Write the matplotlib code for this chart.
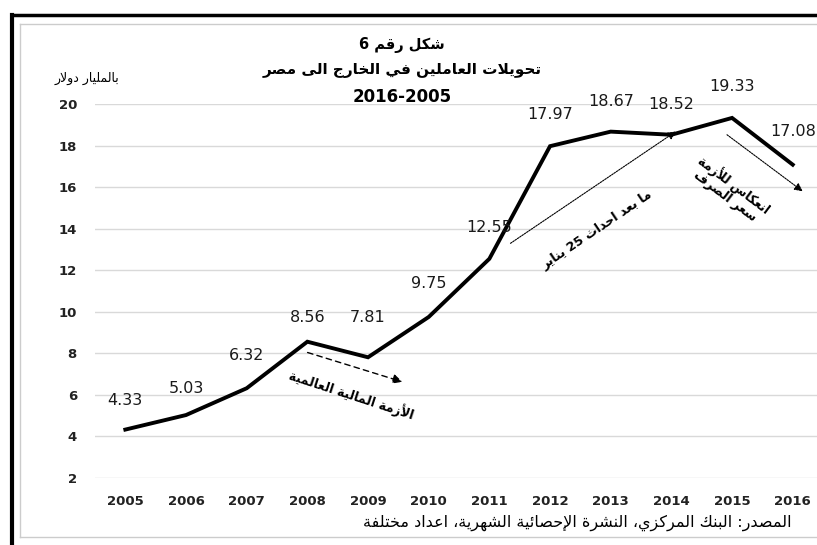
import re
import matplotlib
matplotlib.use("Agg")
import matplotlib.pyplot as plt
from matplotlib.lines import Line2D

# data
years = [2005, 2006, 2007, 2008, 2009, 2010, 2011, 2012, 2013, 2014, 2015, 2016]
remittances = [4.33, 5.03, 6.32, 8.56, 7.81, 9.75, 12.55, 17.97, 18.67, 18.52, 19.33, 17.08]
value_labels = ["4.33", "5.03", "6.32", "8.56", "7.81", "9.75", "12.55", "17.97", "18.67", "18.52", "19.33", "17.08"]
y_ticks = [2, 4, 6, 8, 10, 12, 14, 16, 18, 20]

title_1 = "شكل رقم 6"
title_2 = "تحويلات العاملين في الخارج الى مصر"
title_3 = "2016-2005"
unit_label = "بالمليار دولار"
source_text = "المصدر: البنك المركزي، النشرة الإحصائية الشهرية، اعداد مختلفة"
note_crisis = "الأزمة المالية العالمية"
note_jan25 = "ما بعد احداث 25 يناير"
note_fx = "انعكاس للأزمة\nسعر الصرف"

# label offsets above each point (pixels)
label_dy = [29, 27, 33, 24, 40, 33, 31, 32, 30, 30, 31, 33]

# --- small arabic shaper (matplotlib 3.10 has no complex text layout) ---
FORMS = {
    "ء": (0xFE80, 1), "آ": (0xFE81, 2), "أ": (0xFE83, 2), "ؤ": (0xFE85, 2),
    "إ": (0xFE87, 2), "ئ": (0xFE89, 4), "ا": (0xFE8D, 2), "ب": (0xFE8F, 4),
    "ة": (0xFE93, 2), "ت": (0xFE95, 4), "ث": (0xFE99, 4), "ج": (0xFE9D, 4),
    "ح": (0xFEA1, 4), "خ": (0xFEA5, 4), "د": (0xFEA9, 2), "ذ": (0xFEAB, 2),
    "ر": (0xFEAD, 2), "ز": (0xFEAF, 2), "س": (0xFEB1, 4), "ش": (0xFEB5, 4),
    "ص": (0xFEB9, 4), "ض": (0xFEBD, 4), "ط": (0xFEC1, 4), "ظ": (0xFEC5, 4),
    "ع": (0xFEC9, 4), "غ": (0xFECD, 4), "ف": (0xFED1, 4), "ق": (0xFED5, 4),
    "ك": (0xFED9, 4), "ل": (0xFEDD, 4), "م": (0xFEE1, 4), "ن": (0xFEE5, 4),
    "ه": (0xFEE9, 4), "و": (0xFEED, 2), "ى": (0xFEEF, 2), "ي": (0xFEF1, 4),
}
LAM_ALEF = {"آ": 0xFEF5, "أ": 0xFEF7, "إ": 0xFEF9, "ا": 0xFEFB}


def shape(s):
    out = []
    i = 0
    n = len(s)
    while i < n:
        c = s[i]
        if c not in FORMS:
            out.append(c)
            i += 1
            continue
        prev = i > 0 and s[i - 1] in FORMS and FORMS[s[i - 1]][1] == 4
        if c == "ل" and i + 1 < n and s[i + 1] in LAM_ALEF:
            out.append(chr(LAM_ALEF[s[i + 1]] + (1 if prev else 0)))
            i += 2
            continue
        base, nf = FORMS[c]
        nxt = nf == 4 and i + 1 < n and s[i + 1] in FORMS and FORMS[s[i + 1]][1] > 1
        if prev and nxt:
            k = 3
        elif prev:
            k = 1
        elif nxt:
            k = 2
        else:
            k = 0
        if nf == 1:
            k = 0
        out.append(chr(base + k))
        i += 1
    return "".join(out)


def ar(text):
    lines = []
    for line in text.split("\n"):
        shaped = shape(line)
        tokens = re.findall(r"[0-9]+(?:[.\-][0-9]+)*|[^0-9]+", shaped)
        lines.append("".join(t if t[0].isdigit() else t[::-1] for t in reversed(tokens)))
    return "\n".join(lines)


plt.rcParams["font.family"] = ["DejaVu Sans"]

W, H = 817, 545
fig = plt.figure(figsize=(W / 100, H / 100), dpi=100)

x0, x1 = 95, 817
y_top, y_bot = 104, 478
ax = fig.add_axes([x0 / W, 1 - y_bot / H, (x1 - x0) / W, (y_bot - y_top) / H])
ax.set_xlim(2004.5, 2016.4)
ax.set_ylim(2, 20)

ax.plot(years, remittances, color="black", lw=2.8, solid_joinstyle="miter", clip_on=False, zorder=3)

for x, y, lab, dy in zip(years, remittances, value_labels, label_dy):
    ax.annotate(lab, (x, y), xytext=(0, dy * 0.72), textcoords="offset points",
                ha="center", va="center", fontsize=11.5, color="#1a1a1a")

ax.set_yticks(y_ticks)
ax.set_xticks(years)
ax.set_xticklabels([str(y) for y in years])
ax.grid(axis="y", color="#d9d9d9", lw=1)
ax.set_axisbelow(True)
for sp in ax.spines.values():
    sp.set_visible(False)
ax.tick_params(axis="both", length=0, labelsize=9.5)
ax.tick_params(axis="y", pad=13)
ax.tick_params(axis="x", pad=12)
for t in ax.get_xticklabels() + ax.get_yticklabels():
    t.set_fontweight("bold")
    t.set_color("#222222")

# annotations
ax.annotate("", xy=(2009.61, 6.59), xytext=(2007.96, 8.08),
            arrowprops=dict(arrowstyle="-|>", color="black", lw=1, ls=(0, (4, 3)), mutation_scale=14))
ax.text(2008.72, 6.0, ar(note_crisis), rotation=-18, ha="center", va="center",
        fontsize=9, fontweight="bold", rotation_mode="anchor")

ax.annotate("", xy=(2014.11, 18.75), xytext=(2011.31, 13.22),
            arrowprops=dict(arrowstyle="-|>", color="black", lw=0.8, ls=(0, (1.5, 1)), mutation_scale=12))
ax.text(2012.77, 13.94, ar(note_jan25), rotation=34, ha="center", va="center",
        fontsize=9, fontweight="bold", rotation_mode="anchor")

ax.annotate("", xy=(2016.2, 15.72), xytext=(2014.88, 18.6),
            arrowprops=dict(arrowstyle="-|>", color="black", lw=0.8, ls=(0, (1.5, 1)), mutation_scale=12))
ax.text(2014.96, 15.87, ar(note_fx), rotation=-37, ha="center", va="center",
        fontsize=9, fontweight="bold", rotation_mode="anchor", linespacing=1.1)

# titles and notes in figure pixels
def ftext(px, py, s, **kw):
    fig.text(px / W, 1 - py / H, s, ha="center", va="center", **kw)

ftext(402, 45, ar(title_1), fontsize=10.5, fontweight="bold")
ftext(402, 70, ar(title_2), fontsize=11, fontweight="bold")
ftext(402, 97, title_3, fontsize=12, fontweight="bold")
ftext(87, 78, ar(unit_label), fontsize=9)
ftext(577, 523, ar(source_text), fontsize=11.5)

# chart frame
fig.add_artist(Line2D([12 / W, 12 / W], [0, 1 - 15 / H], color="black", lw=3, transform=fig.transFigure))
fig.add_artist(Line2D([12 / W, 1], [1 - 15 / H, 1 - 15 / H], color="black", lw=2.5, transform=fig.transFigure))
fig.add_artist(Line2D([20 / W, 20 / W], [8 / H, 1 - 24 / H], color="#cccccc", lw=1, transform=fig.transFigure))
fig.add_artist(Line2D([20 / W, 1], [1 - 24 / H, 1 - 24 / H], color="#cccccc", lw=1, transform=fig.transFigure))
fig.add_artist(Line2D([20 / W, 1], [8 / H, 8 / H], color="#cccccc", lw=1, transform=fig.transFigure))

fig.savefig("out.png", dpi=100)
